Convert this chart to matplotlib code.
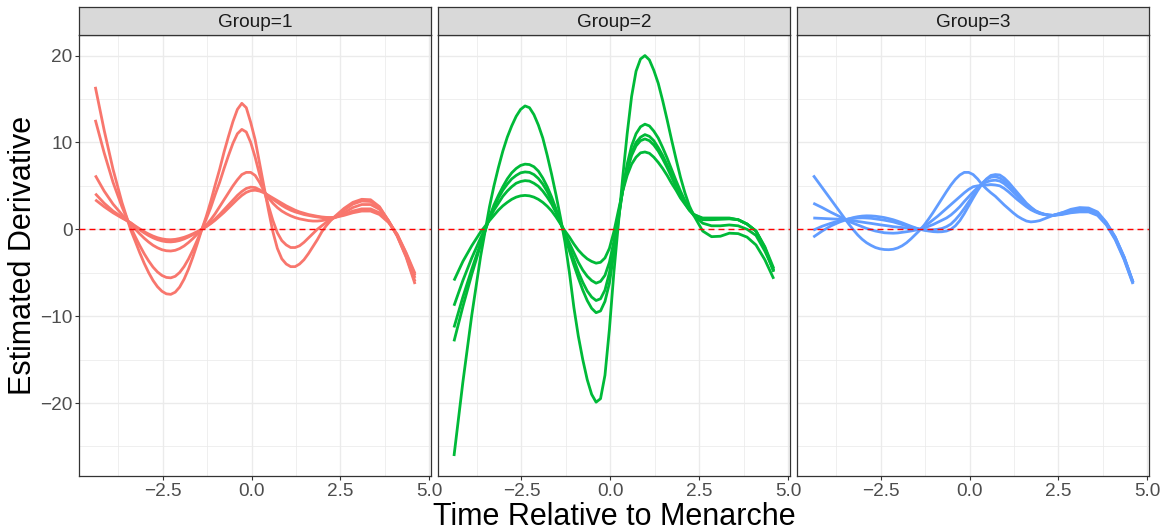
import matplotlib
matplotlib.use("Agg")
import matplotlib.pyplot as plt
from matplotlib.ticker import FixedLocator

plt.rcParams['font.family'] = ['Liberation Sans', 'DejaVu Sans']

# ---- data -----------------------------------------------------------------
time = [-4.4, -4.15, -3.9, -3.65,
        -3.4, -3.275, -3.15, -3.025, -2.9, -2.775, -2.65, -2.525,
        -2.4, -2.275, -2.15, -2.025, -1.9, -1.775, -1.65, -1.525,
        -1.4, -1.275, -1.15, -1.025, -0.9, -0.775, -0.65, -0.525,
        -0.4, -0.275, -0.15, -0.025, 0.1, 0.225, 0.35, 0.475,
        0.6, 0.725, 0.85, 0.975, 1.1, 1.225, 1.35, 1.475,
        1.6, 1.725, 1.85, 1.975, 2.1, 2.225, 2.35,
        2.6, 2.85, 3.1, 3.35, 3.6, 3.85, 4.1, 4.35, 4.6]

group1_a = [16.4, 11.4, 6.9, 3.1,
            -0.1, -1.38, -2.69, -3.90, -4.97, -5.89, -6.61, -7.13,
            -7.43, -7.49, -7.24, -6.65, -5.74, -4.57, -3.17, -1.62,
            0.0, 1.5, 3.2, 5.1, 6.9, 8.9, 10.7, 12.4,
            13.8, 14.5, 14.0, 12.3, 10.3, 7.6, 4.9, 2.2,
            -0.3, -2.2, -3.4, -4.0, -4.3, -4.3, -4.0, -3.5,
            -2.8, -2.0, -1.2, -0.3, 0.4, 1.0, 1.5,
            2.4, 3.1, 3.45, 3.4, 2.6, 1.0, -0.8, -3.2, -6.3]
group1_b = [12.6, 8.8, 5.4, 2.6,
            0.2, -0.85, -1.86, -2.80, -3.63, -4.35, -4.91, -5.31,
            -5.54, -5.59, -5.41, -4.97, -4.29, -3.41, -2.37, -1.21,
            0.0, 1.2, 2.5, 4.0, 5.4, 7.0, 8.5, 9.9,
            11.0, 11.5, 11.2, 10.0, 8.3, 6.3, 4.5, 2.7,
            1.0, -0.4, -1.3, -1.8, -2.1, -2.1, -1.9, -1.5,
            -1.0, -0.5, 0.0, 0.4, 0.8, 1.1, 1.4,
            2.2, 2.9, 3.25, 3.2, 2.5, 1.0, -0.75, -3.1, -6.0]
group1_c = [6.2, 4.4, 2.9, 1.7,
            0.55, 0.02, -0.52, -1.02, -1.46, -1.84, -2.13, -2.35,
            -2.47, -2.5, -2.42, -2.22, -1.92, -1.52, -1.06, -0.54,
            0.0, 0.5, 1.1, 1.8, 2.6, 3.4, 4.2, 5.0,
            5.7, 6.3, 6.55, 6.55, 6.2, 5.4, 4.4, 3.6,
            3.0, 2.5, 2.1, 1.8, 1.55, 1.35, 1.2, 1.1,
            1.0, 0.95, 0.95, 1.0, 1.1, 1.2, 1.35,
            1.9, 2.5, 2.85, 2.85, 2.3, 1.0, -0.7, -3.0, -5.6]
group1_d = [4.1, 3.0, 2.1, 1.4,
            0.7, 0.31, -0.06, -0.41, -0.72, -0.98, -1.19, -1.34,
            -1.43, -1.45, -1.40, -1.29, -1.11, -0.88, -0.61, -0.31,
            0.0, 0.35, 0.75, 1.2, 1.7, 2.25, 2.8, 3.35,
            3.9, 4.35, 4.7, 4.85, 4.8, 4.55, 4.25, 3.85,
            3.45, 3.1, 2.75, 2.45, 2.2, 2.0, 1.85, 1.7,
            1.6, 1.5, 1.42, 1.35, 1.32, 1.33, 1.4,
            1.7, 2.1, 2.35, 2.35, 1.9, 0.9, -0.6, -2.8, -5.3]
group1_e = [3.4, 2.6, 1.9, 1.3,
            0.75, 0.38, 0.05, -0.27, -0.54, -0.78, -0.97, -1.10,
            -1.18, -1.2, -1.16, -1.06, -0.92, -0.73, -0.51, -0.26,
            0.0, 0.3, 0.65, 1.05, 1.5, 1.95, 2.45, 2.95,
            3.45, 3.9, 4.25, 4.45, 4.5, 4.4, 4.2, 3.9,
            3.6, 3.3, 3.0, 2.7, 2.45, 2.2, 2.0, 1.85,
            1.7, 1.6, 1.5, 1.42, 1.37, 1.35, 1.37,
            1.6, 1.9, 2.1, 2.1, 1.7, 0.8, -0.6, -2.7, -5.1]

group2_a = [-26.1, -17.6, -9.9, -3.1,
            2.6, 5.0, 7.1, 9.0, 10.6, 11.9, 13.0, 13.8,
            14.2, 14.0, 13.2, 12.0, 10.5, 8.5, 6.3, 3.9,
            1.3, -1.5, -5.0, -9.0, -12.3, -15.0, -17.3, -19.0,
            -19.9, -19.5, -16.8, -11.5, -5.0, 0.5, 6.0, 11.0,
            15.3, 18.2, 19.6, 20.0, 19.5, 18.3, 16.8, 14.8,
            12.6, 10.3, 8.1, 6.0, 4.2, 2.7, 1.6,
            -0.2, -0.85, -0.8, -0.45, -0.5, -0.9, -1.8, -3.5, -5.7]
group2_b = [-12.9, -8.9, -5.2, -1.8,
            1.4, 2.8, 3.9, 4.9, 5.8, 6.5, 7.0, 7.35,
            7.5, 7.45, 7.2, 6.7, 5.9, 4.9, 3.7, 2.3,
            0.8, -0.8, -2.5, -4.1, -5.6, -7.0, -8.2, -9.1,
            -9.6, -9.4, -8.3, -6.2, -2.8, 1.0, 4.6, 7.5,
            9.6, 11.0, 11.8, 12.1, 11.9, 11.3, 10.5, 9.4,
            8.2, 6.9, 5.6, 4.4, 3.3, 2.4, 1.7,
            1.1, 1.1, 1.15, 1.2, 1.1, 0.6, -0.2, -2.2, -4.9]
group2_c = [-11.3, -7.8, -4.6, -1.6,
            1.3, 2.5, 3.6, 4.5, 5.2, 5.8, 6.2, 6.5,
            6.6, 6.55, 6.3, 5.85, 5.2, 4.35, 3.3, 2.1,
            0.8, -0.6, -2.1, -3.5, -4.9, -6.1, -7.1, -7.8,
            -8.2, -8.0, -7.0, -5.0, -2.0, 1.3, 4.5, 7.0,
            8.8, 10.0, 10.6, 10.9, 10.7, 10.2, 9.4, 8.5,
            7.4, 6.3, 5.1, 4.0, 3.1, 2.3, 1.7,
            1.2, 1.2, 1.25, 1.25, 1.1, 0.6, -0.2, -2.1, -4.8]
group2_d = [-8.8, -5.9, -3.3, -1.0,
            1.2, 2.2, 3.0, 3.8, 4.4, 4.9, 5.3, 5.5,
            5.6, 5.55, 5.3, 4.95, 4.4, 3.7, 2.9, 1.9,
            0.7, -0.5, -1.6, -2.7, -3.8, -4.7, -5.4, -5.9,
            -6.2, -6.0, -5.3, -3.8, -1.4, 1.6, 4.5, 6.8,
            8.5, 9.6, 10.2, 10.4, 10.2, 9.7, 9.0, 8.1,
            7.1, 6.0, 4.9, 3.9, 3.0, 2.2, 1.6,
            0.7, 0.4, 0.4, 0.5, 0.4, 0.0, -0.7, -2.5, -4.7]
group2_e = [-5.9, -3.7, -1.9, -0.3,
            1.0, 1.6, 2.2, 2.7, 3.1, 3.45, 3.7, 3.85,
            3.9, 3.85, 3.7, 3.45, 3.1, 2.65, 2.1, 1.4,
            0.6, -0.2, -0.9, -1.7, -2.4, -2.95, -3.4, -3.7,
            -3.9, -3.8, -3.3, -2.2, -0.3, 2.1, 4.4, 6.2,
            7.5, 8.3, 8.8, 8.9, 8.75, 8.3, 7.7, 7.0,
            6.2, 5.3, 4.5, 3.6, 2.9, 2.2, 1.7,
            1.3, 1.3, 1.3, 1.3, 1.1, 0.6, -0.2, -2.0, -4.5]

group3_a = [6.2, 4.8, 3.4, 2.0,
            0.6, -0.05, -0.65, -1.15, -1.55, -1.85, -2.1, -2.25,
            -2.33, -2.35, -2.3, -2.15, -1.9, -1.55, -1.1, -0.6,
            -0.1, 0.5, 1.2, 1.95, 2.75, 3.55, 4.35, 5.1,
            5.75, 6.25, 6.55, 6.55, 6.3, 5.8, 5.15, 4.65,
            4.2, 3.8, 3.3, 2.8, 2.35, 1.9, 1.5, 1.2,
            0.95, 0.85, 0.9, 1.0, 1.2, 1.4, 1.6,
            1.9, 2.1, 2.3, 2.3, 1.9, 0.7, -0.9, -3.2, -6.1]
group3_b = [3.0, 2.5, 1.95, 1.45,
            0.9, 0.7, 0.5, 0.3, 0.1, -0.05, -0.2, -0.3,
            -0.4, -0.43, -0.45, -0.42, -0.35, -0.28, -0.2, -0.1,
            0.0, 0.35, 0.7, 1.1, 1.5, 1.95, 2.4, 2.85,
            3.3, 3.75, 4.2, 4.6, 4.9, 5.0, 5.05, 5.1,
            5.15, 5.1, 5.0, 4.7, 4.3, 3.85, 3.4, 3.0,
            2.6, 2.25, 2.0, 1.8, 1.7, 1.62, 1.6,
            1.9, 2.3, 2.5, 2.45, 2.0, 0.8, -0.9, -3.2, -6.1]
group3_c = [1.3, 1.25, 1.2, 1.15,
            1.05, 0.98, 0.9, 0.83, 0.75, 0.68, 0.6, 0.52,
            0.45, 0.38, 0.3, 0.25, 0.2, 0.15, 0.1, 0.05,
            0.0, 0.15, 0.35, 0.55, 0.8, 1.05, 1.3, 1.65,
            2.1, 2.6, 3.2, 3.75, 4.3, 4.8, 5.2, 5.45,
            5.6, 5.65, 5.55, 5.25, 4.8, 4.3, 3.8, 3.3,
            2.8, 2.4, 2.1, 1.9, 1.75, 1.65, 1.6,
            1.8, 2.1, 2.3, 2.25, 1.8, 0.7, -1.0, -3.3, -6.1]
group3_d = [-0.1, 0.35, 0.7, 1.0,
            1.2, 1.25, 1.3, 1.32, 1.3, 1.27, 1.2, 1.13,
            1.05, 0.95, 0.85, 0.7, 0.55, 0.4, 0.25, 0.12,
            0.0, -0.05, -0.07, -0.05, 0.0, 0.1, 0.3, 0.6,
            1.1, 1.7, 2.4, 3.15, 3.9, 4.65, 5.3, 5.75,
            6.0, 6.05, 5.9, 5.55, 5.1, 4.55, 4.0, 3.45,
            2.9, 2.45, 2.1, 1.85, 1.7, 1.62, 1.6,
            1.75, 2.0, 2.15, 2.1, 1.7, 0.6, -1.1, -3.4, -6.2]
group3_e = [-0.9, -0.2, 0.4, 0.85,
            1.2, 1.35, 1.45, 1.52, 1.55, 1.54, 1.5, 1.43,
            1.35, 1.23, 1.1, 0.93, 0.75, 0.55, 0.35, 0.17,
            0.0, -0.12, -0.2, -0.27, -0.3, -0.28, -0.2, 0.0,
            0.4, 1.0, 1.8, 2.7, 3.6, 4.45, 5.2, 5.8,
            6.2, 6.3, 6.25, 5.9, 5.4, 4.8, 4.2, 3.6,
            3.0, 2.55, 2.15, 1.9, 1.72, 1.63, 1.6,
            1.7, 1.9, 2.0, 2.0, 1.6, 0.5, -1.2, -3.5, -6.3]

group_names = ["Group=1", "Group=2", "Group=3"]
group_colors = ["#F8766D", "#00BA38", "#619CFF"]
group_curves = [
    [group1_a, group1_b, group1_c, group1_d, group1_e],
    [group2_a, group2_b, group2_c, group2_d, group2_e],
    [group3_a, group3_b, group3_c, group3_d, group3_e],
]

x_ticks = [-2.5, 0.0, 2.5, 5.0]
x_tick_labels = ["\u22122.5", "0.0", "2.5", "5.0"]
y_ticks = [-20, -10, 0, 10, 20]
y_tick_labels = ["\u221220", "\u221210", "0", "10", "20"]

for curves in group_curves:
    for ys in curves:
        assert len(ys) == len(time), len(ys)

# ---- layout ---------------------------------------------------------------
W, H = 1164, 531
fig = plt.figure(figsize=(W / 100, H / 100), dpi=100)
fig.patch.set_facecolor("white")

panel_left = [79.3, 438.0, 797.3]
panel_w = 351.7
panel_top, panel_bottom, strip_top = 34.7, 476.0, 7.3

border = "#333333"
for i, (name, color, curves) in enumerate(zip(group_names, group_colors, group_curves)):
    ax = fig.add_axes([panel_left[i] / W, 1 - panel_bottom / H,
                       panel_w / W, (panel_bottom - panel_top) / H])
    ax.set_facecolor("white")
    ax.set_xlim(-4.85, 5.05)
    ax.set_ylim(-28.4, 22.4)
    ax.xaxis.set_major_locator(FixedLocator(x_ticks))
    ax.xaxis.set_minor_locator(FixedLocator([-3.75, -1.25, 1.25, 3.75]))
    ax.yaxis.set_major_locator(FixedLocator(y_ticks))
    ax.yaxis.set_minor_locator(FixedLocator([-25, -15, -5, 5, 15]))
    ax.set_xticklabels(x_tick_labels)
    ax.set_yticklabels(y_tick_labels)
    ax.grid(which="major", color="#EBEBEB", lw=1.0)
    ax.grid(which="minor", color="#EBEBEB", lw=0.55)
    ax.set_axisbelow(True)
    ax.tick_params(which="minor", length=0)
    ax.tick_params(which="major", length=2.75, width=0.8, color=border,
                   labelcolor="#4D4D4D", labelsize=13.7, pad=2)
    if i > 0:
        ax.tick_params(axis="y", left=False, labelleft=False)
    for sp in ax.spines.values():
        sp.set_color(border)
        sp.set_linewidth(0.9)

    for ys in curves:
        ax.plot(time, ys, color=color, lw=2.0, solid_joinstyle="round",
                solid_capstyle="butt", zorder=2)
    ax.axhline(0, color="#FF0000", ls=(0, (4.3, 2.9)), lw=1.0, zorder=3)

    # facet strip
    sax = fig.add_axes([panel_left[i] / W, 1 - panel_top / H,
                        panel_w / W, (panel_top - strip_top) / H])
    sax.set_facecolor("#D9D9D9")
    sax.set_xticks([])
    sax.set_yticks([])
    for sp in sax.spines.values():
        sp.set_color(border)
        sp.set_linewidth(0.9)
    sax.text(0.5, 0.45, name, ha="center", va="center", fontsize=13.7,
             color="#1A1A1A", transform=sax.transAxes)

fig.text(614 / W, (H - 525) / H, "Time Relative to Menarche", ha="center",
         va="baseline", fontsize=22, color="black")
fig.text(8 / W, (H - 255) / H, "Estimated Derivative", ha="left", va="center",
         rotation=90, fontsize=22, color="black")

fig.savefig("out.png", dpi=100, facecolor="white")
